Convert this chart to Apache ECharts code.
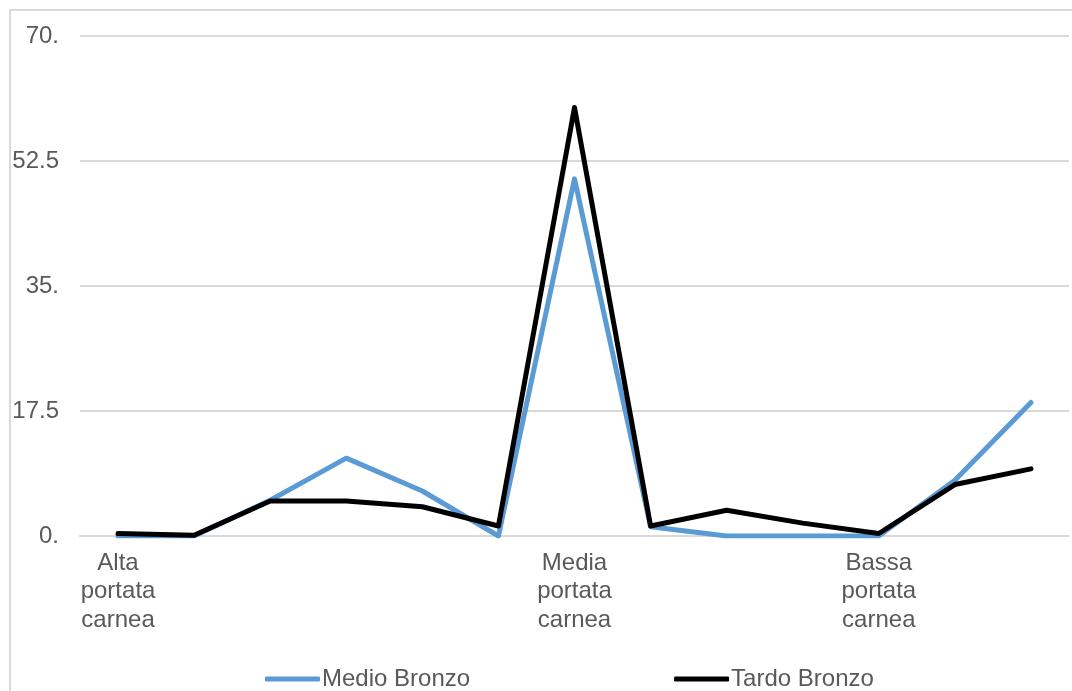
<!DOCTYPE html>
<html>
<head>
    <meta charset="UTF-8">
    <title>Medio e Tardo Bronzo</title>
    <script src="https://cdn.jsdelivr.net/npm/echarts@6.0.0/dist/echarts.min.js"></script>
    <style>
        body {
            margin: 0;
            background: #fff;
        }
        .frame {
            position: absolute;
            left: 9px;
            top: 9px;
            width: 1100px;
            height: 700px;
            border: 2px solid #d9d9d9;
        }
        #chartContainer {
            position: absolute;
            left: 0;
            top: 0;
            width: 1072px;
            height: 691px;
        }
    </style>
</head>
<body>
    <div class="frame"></div>
    <div id="chartContainer"></div>

    <script>
        // categorie (solo tre etichette visibili)
        const categories = [
            'Alta\nportata\ncarnea', '', '', '', '', '',
            'Media\nportata\ncarnea', '', '', '',
            'Bassa\nportata\ncarnea', '', ''
        ];
        const medioBronzo = [0, 0, 5, 10.9, 6.3, 0, 50, 1.3, 0, 0, 0, 7.8, 18.7];
        const tardoBronzo = [0.35, 0.1, 4.9, 4.9, 4.1, 1.4, 60, 1.4, 3.6, 1.8, 0.35, 7.2, 9.4];
        const yTickLabels = ['0.', '17.5', '35.', '52.5', '70.'];

        const textColor = '#595959';
        const fontFamily = '"Liberation Sans", Arial, sans-serif';

        const myChart = echarts.init(document.getElementById('chartContainer'));

        const option = {
            animation: false,
            textStyle: { fontFamily: fontFamily },
            grid: {
                left: 80,
                right: 3,
                top: 36,
                bottom: 155
            },
            legend: {
                left: 260,
                top: 662,
                itemGap: 204,
                itemWidth: 55,
                itemHeight: 5,
                icon: 'roundRect',
                textStyle: {
                    color: textColor,
                    fontSize: 24,
                    padding: [0, 0, 0, -3]
                },
                data: ['Medio Bronzo', 'Tardo Bronzo']
            },
            xAxis: {
                type: 'category',
                boundaryGap: true,
                data: categories,
                axisLine: { show: true, lineStyle: { color: '#d9d9d9', width: 2 } },
                axisTick: { show: false },
                axisLabel: {
                    interval: 0,
                    color: textColor,
                    fontSize: 24,
                    lineHeight: 28.5,
                    margin: 13
                }
            },
            yAxis: {
                type: 'value',
                min: 0,
                max: 70,
                interval: 17.5,
                axisLine: { show: false },
                axisTick: { show: false },
                splitLine: { lineStyle: { color: '#d9d9d9', width: 2 } },
                axisLabel: {
                    color: textColor,
                    fontSize: 24,
                    margin: 21,
                    formatter: function (v) {
                        return yTickLabels[Math.round(v / 17.5)];
                    }
                }
            },
            series: [
                {
                    name: 'Medio Bronzo',
                    type: 'line',
                    data: medioBronzo,
                    symbol: 'none',
                    itemStyle: { color: '#5b9bd5' },
                    lineStyle: { color: '#5b9bd5', width: 5, cap: 'round', join: 'round' }
                },
                {
                    name: 'Tardo Bronzo',
                    type: 'line',
                    data: tardoBronzo,
                    symbol: 'none',
                    itemStyle: { color: '#000' },
                    lineStyle: { color: '#000', width: 5, cap: 'round', join: 'round' }
                }
            ]
        };

        myChart.setOption(option);

        window.addEventListener('resize', function () {
            myChart && myChart.resize();
        });
    </script>
</body>
</html>
